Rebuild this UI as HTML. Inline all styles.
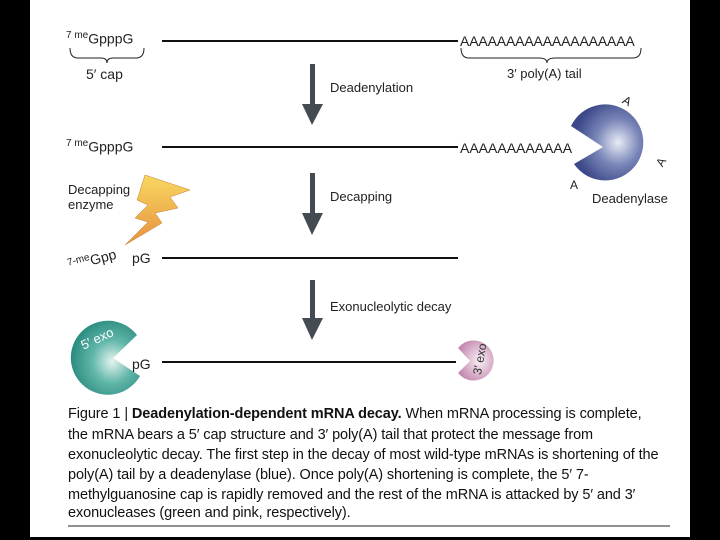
<!DOCTYPE html>
<html><head><style>
body{margin:0;width:720px;height:540px;background:#000;overflow:hidden;font-family:"Liberation Sans",sans-serif}
#w{position:absolute;left:30px;top:0;width:660px;height:537px;background:#fff}
.t{position:absolute;color:#222;font-size:14px;white-space:nowrap}
.cap{position:absolute;left:68px;font-size:14.5px;color:#111;white-space:nowrap;letter-spacing:-0.1px}
sup{font-size:10px}
</style></head><body>
<div id="w"></div>
<svg width="720" height="540" style="position:absolute;left:0;top:0">
<defs>
<radialGradient id="b" cx="0.65" cy="0.5" r="0.6"><stop offset="0" stop-color="#e8ecf5"/><stop offset="0.5" stop-color="#7a86b8"/><stop offset="1" stop-color="#3c4888"/></radialGradient>
<radialGradient id="g" cx="0.6" cy="0.55" r="0.6"><stop offset="0" stop-color="#e4f4f0"/><stop offset="0.5" stop-color="#5fb5a8"/><stop offset="1" stop-color="#2b8c80"/></radialGradient>
<radialGradient id="p" cx="0.6" cy="0.5" r="0.6"><stop offset="0" stop-color="#faf0f6"/><stop offset="1" stop-color="#c48ab0"/></radialGradient>
<linearGradient id="y" x1="0" y1="0" x2="0" y2="1"><stop offset="0" stop-color="#f8d860"/><stop offset="1" stop-color="#e89040"/></linearGradient>
</defs>
<g stroke="#111" stroke-width="2">
<line x1="162" y1="41" x2="458" y2="41"/><line x1="162" y1="147" x2="458" y2="147"/>
<line x1="162" y1="258" x2="458" y2="258"/><line x1="162" y1="362" x2="456" y2="362"/>
</g>
<g fill="none" stroke="#222" stroke-width="1">
<path d="M70 48 q0 10 8 10 h23 q6 0 6 5 q0 -5 6 -5 h23 q8 0 8 -10"/>
<path d="M461 48 q0 10 8 10 h70 q8 0 8 5 q0 -5 8 -5 h78 q8 0 8 -10"/>
<line x1="68" y1="526" x2="670" y2="526"/>
</g>
<g fill="#454b52">
<rect x="310" y="64" width="5" height="42"/><polygon points="302,104 323,104 312,125"/>
<rect x="310" y="173" width="5" height="42"/><polygon points="302,213 323,213 312,235"/>
<rect x="310" y="280" width="5" height="40"/><polygon points="302,318 323,318 312,340"/>
</g>
<path d="M571 126 A38 38 0 1 1 574 164 L603 147 Z" fill="url(#b)"/>
<path d="M137 335 A37 37 0 1 0 140 376 L113 358 Z" fill="url(#g)"/>
<path d="M458 348 A20 20 0 1 1 458 373 L470 361 Z" fill="url(#p)"/>
<polygon points="145,175 190,190 170,197 178,208 155,213 162,223 125,245 148,222 135,218 148,205 137,200" fill="url(#y)" stroke="#c08030" stroke-width="0.5"/>
</svg>
<div class="t" style="left:66px;top:30px"><sup>7 me</sup>GpppG</div>
<div class="t" style="left:86px;top:66px">5′ cap</div>
<div class="t" style="left:460px;top:33px;letter-spacing:-0.15px">AAAAAAAAAAAAAAAAAAA</div>
<div class="t" style="left:507px;top:66px;font-size:13px">3′ poly(A) tail</div>
<div class="t" style="left:330px;top:80px;font-size:13px">Deadenylation</div>
<div class="t" style="left:66px;top:138px"><sup>7 me</sup>GpppG</div>
<div class="t" style="left:460px;top:140px;letter-spacing:0px">AAAAAAAAAAAA</div>
<div class="t" style="left:623px;top:94px;font-size:12px;transform:rotate(30deg)">A</div>
<div class="t" style="left:657px;top:155px;font-size:12px;transform:rotate(-60deg)">A</div>
<div class="t" style="left:570px;top:178px;font-size:12px">A</div>
<div class="t" style="left:592px;top:191px;font-size:13px">Deadenylase</div>
<div class="t" style="left:68px;top:182px;font-size:13px;line-height:15px">Decapping<br>enzyme</div>
<div class="t" style="left:330px;top:189px;font-size:13px">Decapping</div>
<div class="t" style="left:66px;top:258px;transform:rotate(-15deg);transform-origin:left top"><sup>7-me</sup>Gpp</div>
<div class="t" style="left:132px;top:250px">pG</div>
<div class="t" style="left:330px;top:299px;font-size:13px">Exonucleolytic decay</div>
<div class="t" style="left:80px;top:331px;font-size:13px;color:#fff;transform:rotate(-25deg)">5′ exo</div>
<div class="t" style="left:132px;top:356px">pG</div>
<div class="t" style="left:464px;top:352px;font-size:12px;color:#333;transform:rotate(-80deg)">3′ exo</div>
<div class="cap" style="top:406px">Figure 1 | <b>Deadenylation-dependent mRNA decay.</b> When mRNA processing is complete,</div>
<div class="cap" style="top:427px">the mRNA bears a 5′ cap structure and 3′ poly(A) tail that protect the message from</div>
<div class="cap" style="top:447px">exonucleolytic decay. The first step in the decay of most wild-type mRNAs is shortening of the</div>
<div class="cap" style="top:467px">poly(A) tail by a deadenylase (blue). Once poly(A) shortening is complete, the 5′ 7-</div>
<div class="cap" style="top:487px">methylguanosine cap is rapidly removed and the rest of the mRNA is attacked by 5′ and 3′</div>
<div class="cap" style="top:505px">exonucleases (green and pink, respectively).</div>
</body></html>
